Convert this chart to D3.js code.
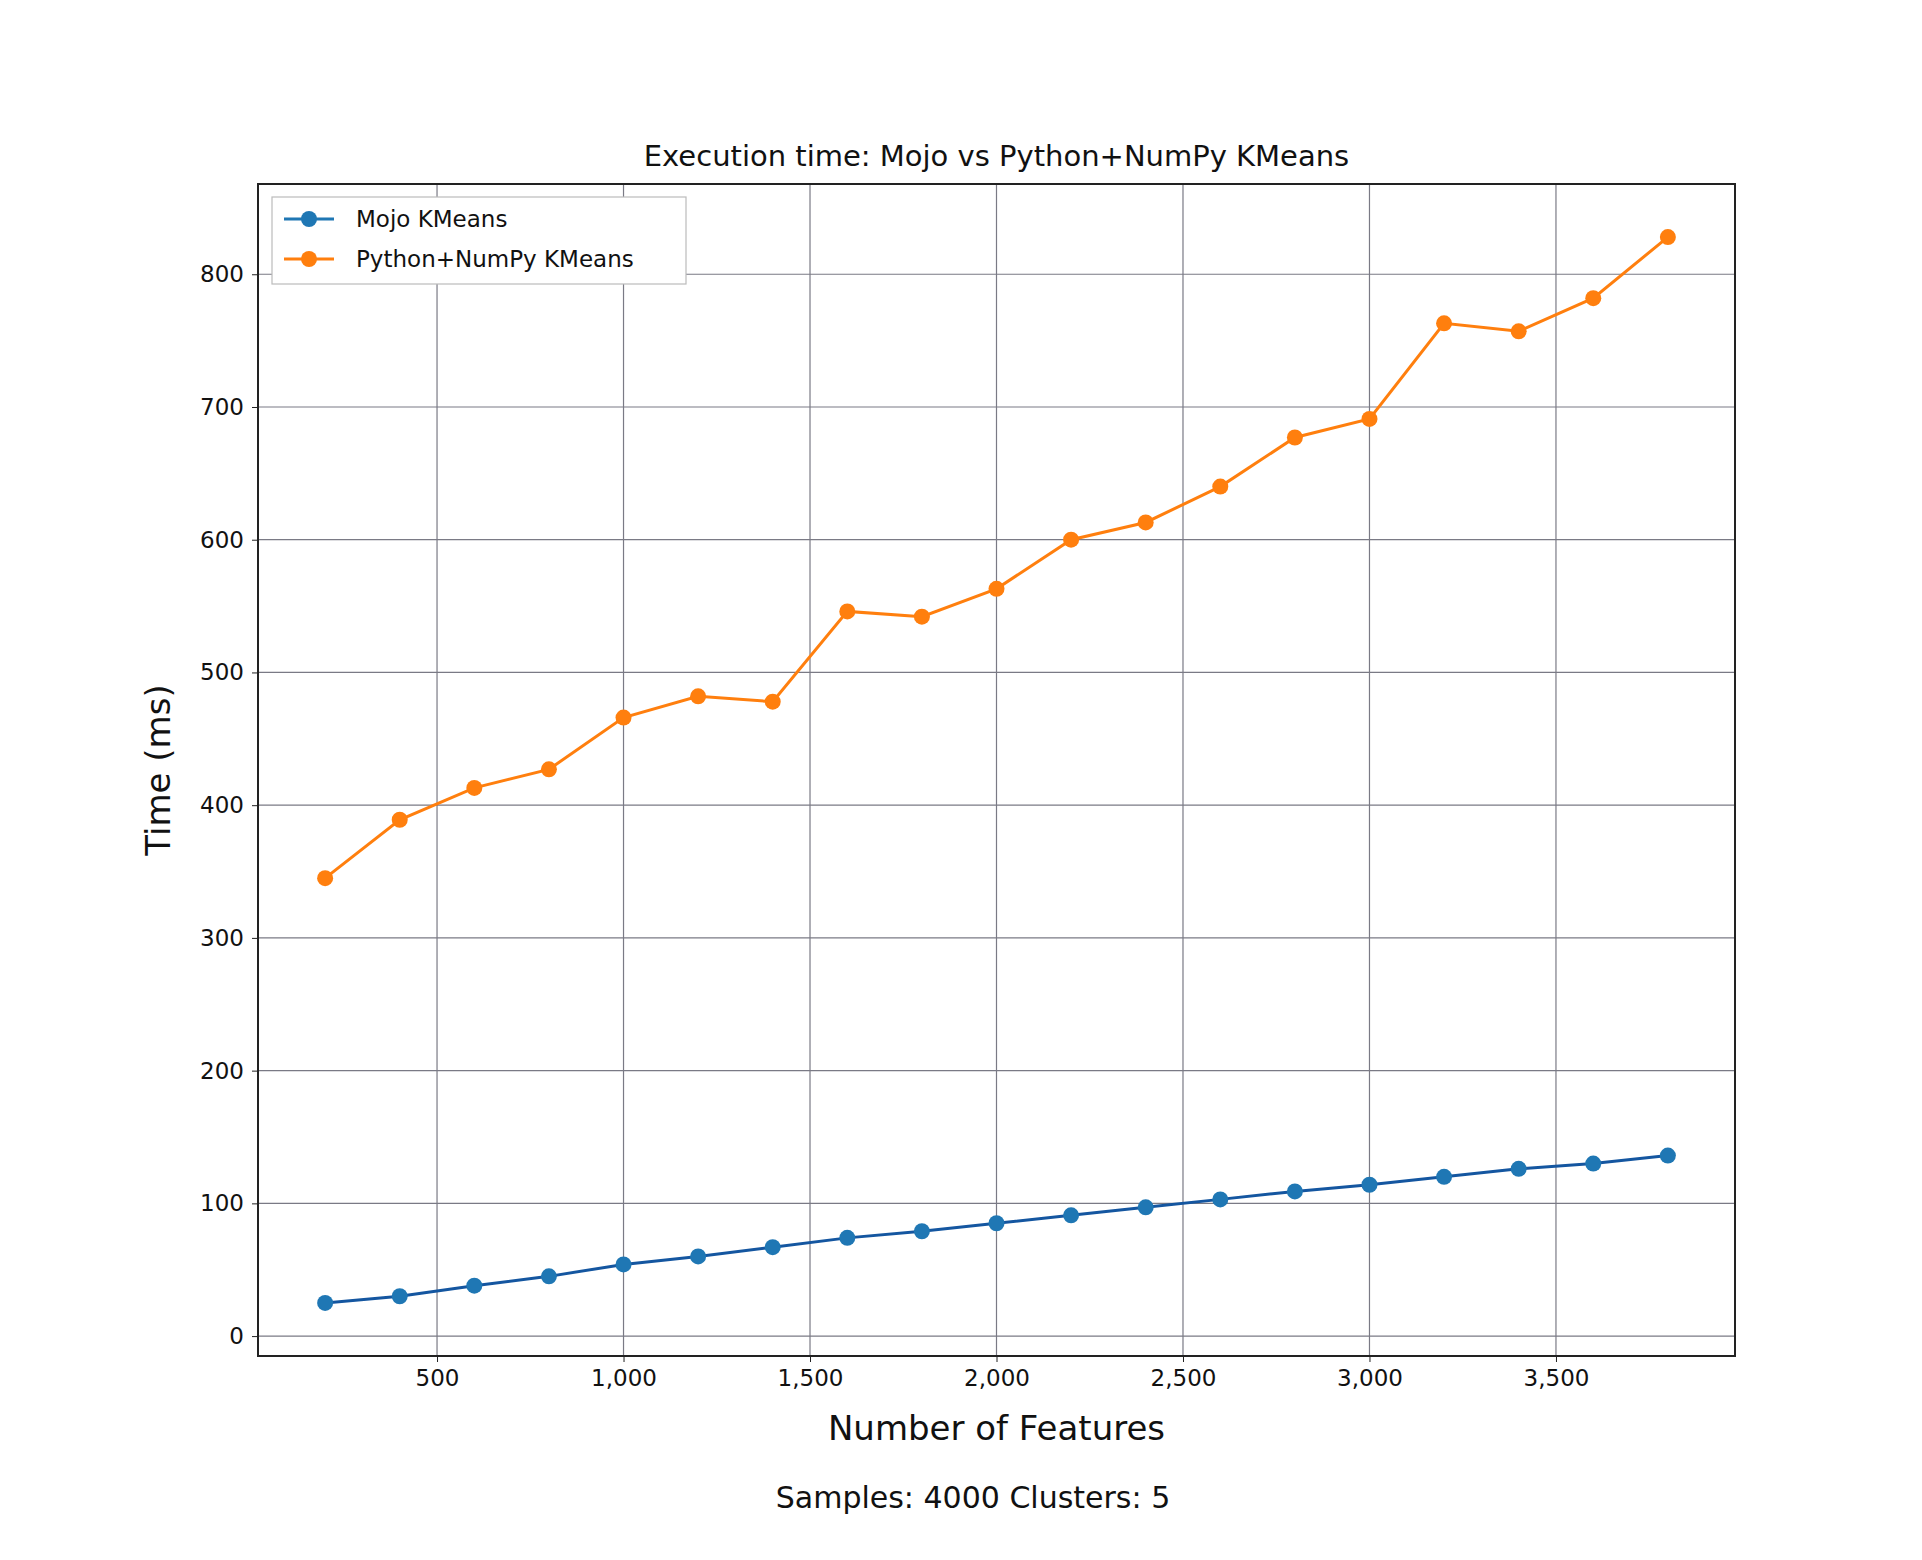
<!DOCTYPE html>
<html><head><meta charset="utf-8">
<script src="https://cdn.jsdelivr.net/npm/d3@7"></script>
<style>body{margin:0;background:#fff}text{font-family:"DejaVu Sans",sans-serif;fill:#111}</style>
</head><body><svg id="chart" width="1922" height="1560"></svg>
<script>
"use strict";

const features = [200, 400, 600, 800, 1000, 1200, 1400, 1600, 1800, 2000, 2200, 2400, 2600, 2800, 3000, 3200, 3400, 3600, 3800];
const mojoTimes = [25, 30, 38, 45, 54, 60, 67, 74, 79, 85, 91, 97, 103, 109, 114, 120, 126, 130, 136];
const pythonTimes = [345, 389, 413, 427, 466, 482, 478, 546, 542, 563, 600, 613, 640, 677, 691, 763, 757, 782, 828];
const xTicks = [500, 1000, 1500, 2000, 2500, 3000, 3500];
const yTicks = [0, 100, 200, 300, 400, 500, 600, 700, 800];
const seriesNames = ["Mojo KMeans", "Python+NumPy KMeans"];
const seriesColors = ["#1f77b4", "#ff7f0e"];

const plotLeft = 258, plotRight = 1735, plotTop = 184, plotBottom = 1356;
const svg = d3.select("#chart");
const x = d3.scaleLinear().domain([20, 3980]).range([plotLeft, plotRight]);
const y = d3.scaleLinear().domain([-15, 868]).range([plotBottom, plotTop]);

// grid
svg.append("g").selectAll("line").data(xTicks).enter().append("line")
    .attr("x1", d => x(d)).attr("x2", d => x(d)).attr("y1", plotTop).attr("y2", plotBottom)
    .attr("stroke", "#7a7a85").attr("stroke-width", 1.2);
svg.append("g").selectAll("line").data(yTicks).enter().append("line")
    .attr("y1", d => y(d)).attr("y2", d => y(d)).attr("x1", plotLeft).attr("x2", plotRight)
    .attr("stroke", "#7a7a85").attr("stroke-width", 1.2);

const xAxis = svg.append("g").attr("transform", `translate(0,${plotBottom})`)
    .call(d3.axisBottom(x).tickValues(xTicks).tickSize(6).tickPadding(8));
const yAxis = svg.append("g").attr("transform", `translate(${plotLeft},0)`)
    .call(d3.axisLeft(y).tickValues(yTicks).tickSize(6).tickPadding(8));
for (const a of [xAxis, yAxis]) {
    a.select(".domain").remove();
    a.selectAll("text").style("font-size", "23px").attr("fill", "#111");
    a.selectAll("line").attr("stroke", "#222");
}

svg.append("rect").attr("x", plotLeft).attr("y", plotTop)
    .attr("width", plotRight - plotLeft).attr("height", plotBottom - plotTop)
    .attr("fill", "none").attr("stroke", "#222").attr("stroke-width", 2);

const line = d3.line().x((d, i) => x(features[i])).y(d => y(d));
[mojoTimes, pythonTimes].forEach((vals, k) => {
    svg.append("path").datum(vals).attr("d", line).attr("fill", "none")
        .attr("stroke", k === 0 ? "#1456a0" : seriesColors[1]).attr("stroke-width", 3);
    svg.append("g").selectAll("circle").data(vals).enter().append("circle")
        .attr("cx", (d, i) => x(features[i])).attr("cy", d => y(d)).attr("r", 8)
        .attr("fill", seriesColors[k]);
});

// legend
const lg = svg.append("g").attr("transform", "translate(272,197)");
lg.append("rect").attr("width", 414).attr("height", 87).attr("fill", "#fff")
    .attr("stroke", "#bbb").attr("stroke-width", 1.2);
seriesNames.forEach((name, k) => {
    const cy = 22 + k * 40;
    lg.append("line").attr("x1", 12).attr("x2", 62).attr("y1", cy).attr("y2", cy)
        .attr("stroke", seriesColors[k]).attr("stroke-width", 3);
    lg.append("circle").attr("cx", 37).attr("cy", cy).attr("r", 8).attr("fill", seriesColors[k]);
    lg.append("text").attr("x", 84).attr("y", cy + 8).style("font-size", "23px").text(name);
});

svg.append("text").attr("x", (plotLeft + plotRight) / 2).attr("y", 166).attr("text-anchor", "middle")
    .style("font-size", "29px").text("Execution time: Mojo vs Python+NumPy KMeans");
svg.append("text").attr("x", (plotLeft + plotRight) / 2).attr("y", 1440).attr("text-anchor", "middle")
    .style("font-size", "34px").text("Number of Features");
svg.append("text").attr("transform", `translate(170,${(plotTop + plotBottom) / 2}) rotate(-90)`)
    .attr("text-anchor", "middle").style("font-size", "34px").text("Time (ms)");
svg.append("text").attr("x", 973).attr("y", 1508).attr("text-anchor", "middle")
    .style("font-size", "30px").text("Samples: 4000 Clusters: 5");
</script></body></html>
